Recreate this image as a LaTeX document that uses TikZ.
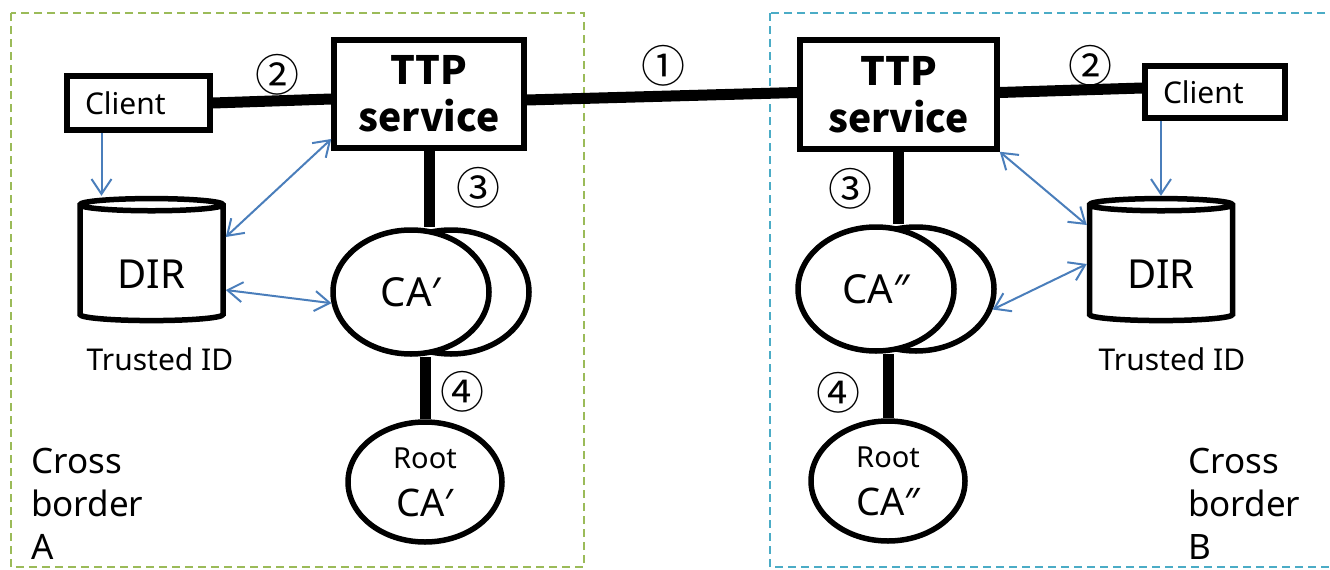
\documentclass[tikz,border=0pt]{standalone}
\usepackage{fontspec}
\setmainfont{Noto Sans}
\newfontfamily\cjkfont{Noto Sans CJK KR}
\usetikzlibrary{shapes.geometric,arrows.meta}
\definecolor{flowblue}{RGB}{74,126,187}
\definecolor{bordergreen}{RGB}{155,187,89}
\definecolor{borderblue}{RGB}{75,172,198}
\begin{document}
\begin{tikzpicture}[x=1pt, y=-1pt, >={Straight Barb[length=15pt,width=20pt]},
	box/.style = {draw, line width=5.5pt, fill=white, inner sep=0pt},
	clientbox/.style = {box, minimum height=52pt, inner xsep=18pt, align=left, font=\fontsize{30}{36}\selectfont},
	ttpbox/.style = {box, minimum width=192pt, minimum height=109pt, align=center, font=\fontsize{39}{47}\cjkfont\bfseries},
	ca/.style = {draw, ellipse, line width=5.5pt, fill=white, inner sep=0pt, minimum width=156pt, minimum height=124pt, font=\fontsize{40}{50}\selectfont},
	rootca/.style = {draw, ellipse, line width=5.5pt, fill=white, inner sep=0pt, minimum width=154pt, minimum height=120pt, align=center, font=\fontsize{38}{48}\selectfont},
	dir/.style = {draw, cylinder, shape border rotate=90, aspect=0.18, line width=5.5pt, fill=white, inner sep=0pt, minimum width=143pt, minimum height=122pt, text height=49pt, text depth=0pt, font=\fontsize{40}{50}\selectfont},
	link/.style = {line width=11pt},
	flow/.style = {flowblue, line width=2pt},
	num/.style = {inner sep=0pt, font=\fontsize{44}{44}\cjkfont},
	caption/.style = {inner sep=0pt, font=\fontsize{30}{36}\selectfont},
	crossing/.style = {anchor=north west, align=left, inner sep=0pt, font=\fontsize{35}{43}\selectfont},
	borderline/.style = {line width=2pt, dash pattern=on 8pt off 5pt}]
	\useasboundingbox (0,0) rectangle (1330,570);
	% cross borders
	\draw[borderline, bordergreen] (11,13) rectangle (584,567);
	\draw[borderline, borderblue] (770,13) rectangle (1345,567);
	\node[crossing] (crossA) at (31,448) {Cross\\border\\A};
	\node[crossing] (crossB) at (1188,448) {Cross\\border\\B};
	% border A
	\node[clientbox, text width=107pt, minimum height=54pt] (clientL) at (138.5,103) {Client};
	\node[ttpbox, minimum width=190pt, minimum height=108pt] (ttpL) at (429,94) {TTP\\service};
	\node[dir] (dirL) at (151.5,264) {DIR};
	\node[caption] (trustL) at (160,359) {Trusted ID};
	\node[ca] (caLback) at (451,292) {};
	\node[ca] (caL) at (411,292) {CA′};
	\node[rootca] (rootL) at (425,482) {{\fontsize{29}{48}\selectfont Root}\\CA′};
	% border B
	\node[ttpbox, minimum width=197pt] (ttpR) at (898.5,94.5) {TTP\\service};
	\node[clientbox, text width=104pt] (clientR) at (1215,92) {Client};
	\node[dir] (dirR) at (1161,264) {DIR};
	\node[caption] (trustR) at (1172,359) {Trusted ID};
	\node[ca] (caRback) at (916,289) {};
	\node[ca] (caR) at (876,289) {CA″};
	\node[rootca] (rootR) at (888,481) {{\fontsize{29}{48}\selectfont Root}\\CA″};
	% links
	\draw[link] (clientL.east) -- ([yshift=-5pt]ttpL.west);
	\draw[link] ([yshift=-6pt]ttpL.east) -- ([yshift=2pt]ttpR.west);
	\draw[link] ([yshift=2pt]ttpR.east) -- ([yshift=4pt]clientR.west);
	\draw[link] (ttpL.south) -- (ttpL.south |- caL.north);
	\draw[link] (rootL.north) -- (rootL.north |- caL.south);
	\draw[link] (ttpR.south) -- (ttpR.south |- caR.north);
	\draw[link] (rootR.north) -- (rootR.north |- caR.south);
	% trusted ID flows
	\draw[flow, ->] ([xshift=-37pt]clientL.south) -- ([xshift=-37pt]clientL.south |- dirL.north);
	\draw[flow, <->] ([yshift=27pt]dirL.east) -- ([yshift=-45pt]ttpL.west);
	\draw[flow, <->] ([yshift=-26pt]dirL.east) -- (caL.188);
	\draw[flow, ->] (clientR.south -| dirR.north) -- (dirR.north);
	\draw[flow, <->] (ttpR.south east) -- ([yshift=39pt]dirR.west);
	\draw[flow, <->] (caRback.345) -- (dirR.west);
	% steps
	\node[num] (stepA) at (663,66) {①};
	\node[num] (stepBL) at (277,75) {②};
	\node[num] (stepBR) at (1090,66) {②};
	\node[num] (stepCL) at (478,188) {③};
	\node[num] (stepCR) at (850,189) {③};
	\node[num] (stepDL) at (462,392) {④};
	\node[num] (stepDR) at (838,393) {④};
\end{tikzpicture}
\end{document}
